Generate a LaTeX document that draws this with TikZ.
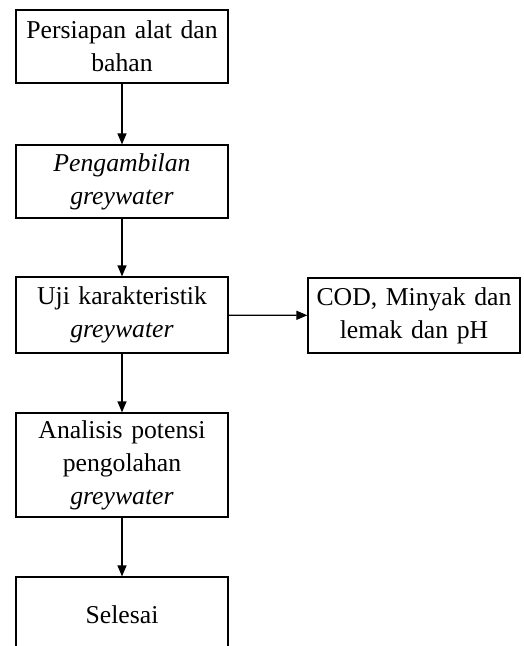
\documentclass[tikz,border=0pt]{standalone}
\usepackage{fontspec}
\setmainfont{Liberation Serif}
\usetikzlibrary{arrows.meta}
\begin{document}
\begin{tikzpicture}[x=1pt,y=1pt,
  box/.style={draw,line width=1.2pt,inner sep=0pt,align=center,
    minimum width=212pt,text width=205pt,
    font=\fontsize{25.7}{33}\selectfont},
  conn/.style={line width=1.2pt,-{Triangle[length=11pt,width=9pt]}}]
\useasboundingbox (0,0) rectangle (523,-646);
\clip (0,0) rectangle (523,-646);
\node[box,minimum height=73pt] (a) at (122,-46.5) {Persiapan alat dan\\bahan};
\node[box,minimum height=73pt] (b) at (122,-181.5) {\textit{Pengambilan}\\\textit{greywater}};
\node[box,minimum height=76pt] (c) at (122,-315) {Uji karakteristik\\\textit{greywater}};
\node[box,minimum height=75pt] (d) at (414,-315.5) {COD, Minyak dan\\lemak dan pH};
\node[box,minimum height=104pt] (e) at (122,-465) {Analisis potensi\\pengolahan\\\textit{greywater}};
\node[box,minimum height=76pt] (f) at (122,-615) {Selesai};
\draw[conn] (a) -- (b);
\draw[conn] (b) -- (c);
\draw[conn] (c) -- (d);
\draw[conn] (c) -- (e);
\draw[conn] (e) -- (f);
\end{tikzpicture}
\end{document}
